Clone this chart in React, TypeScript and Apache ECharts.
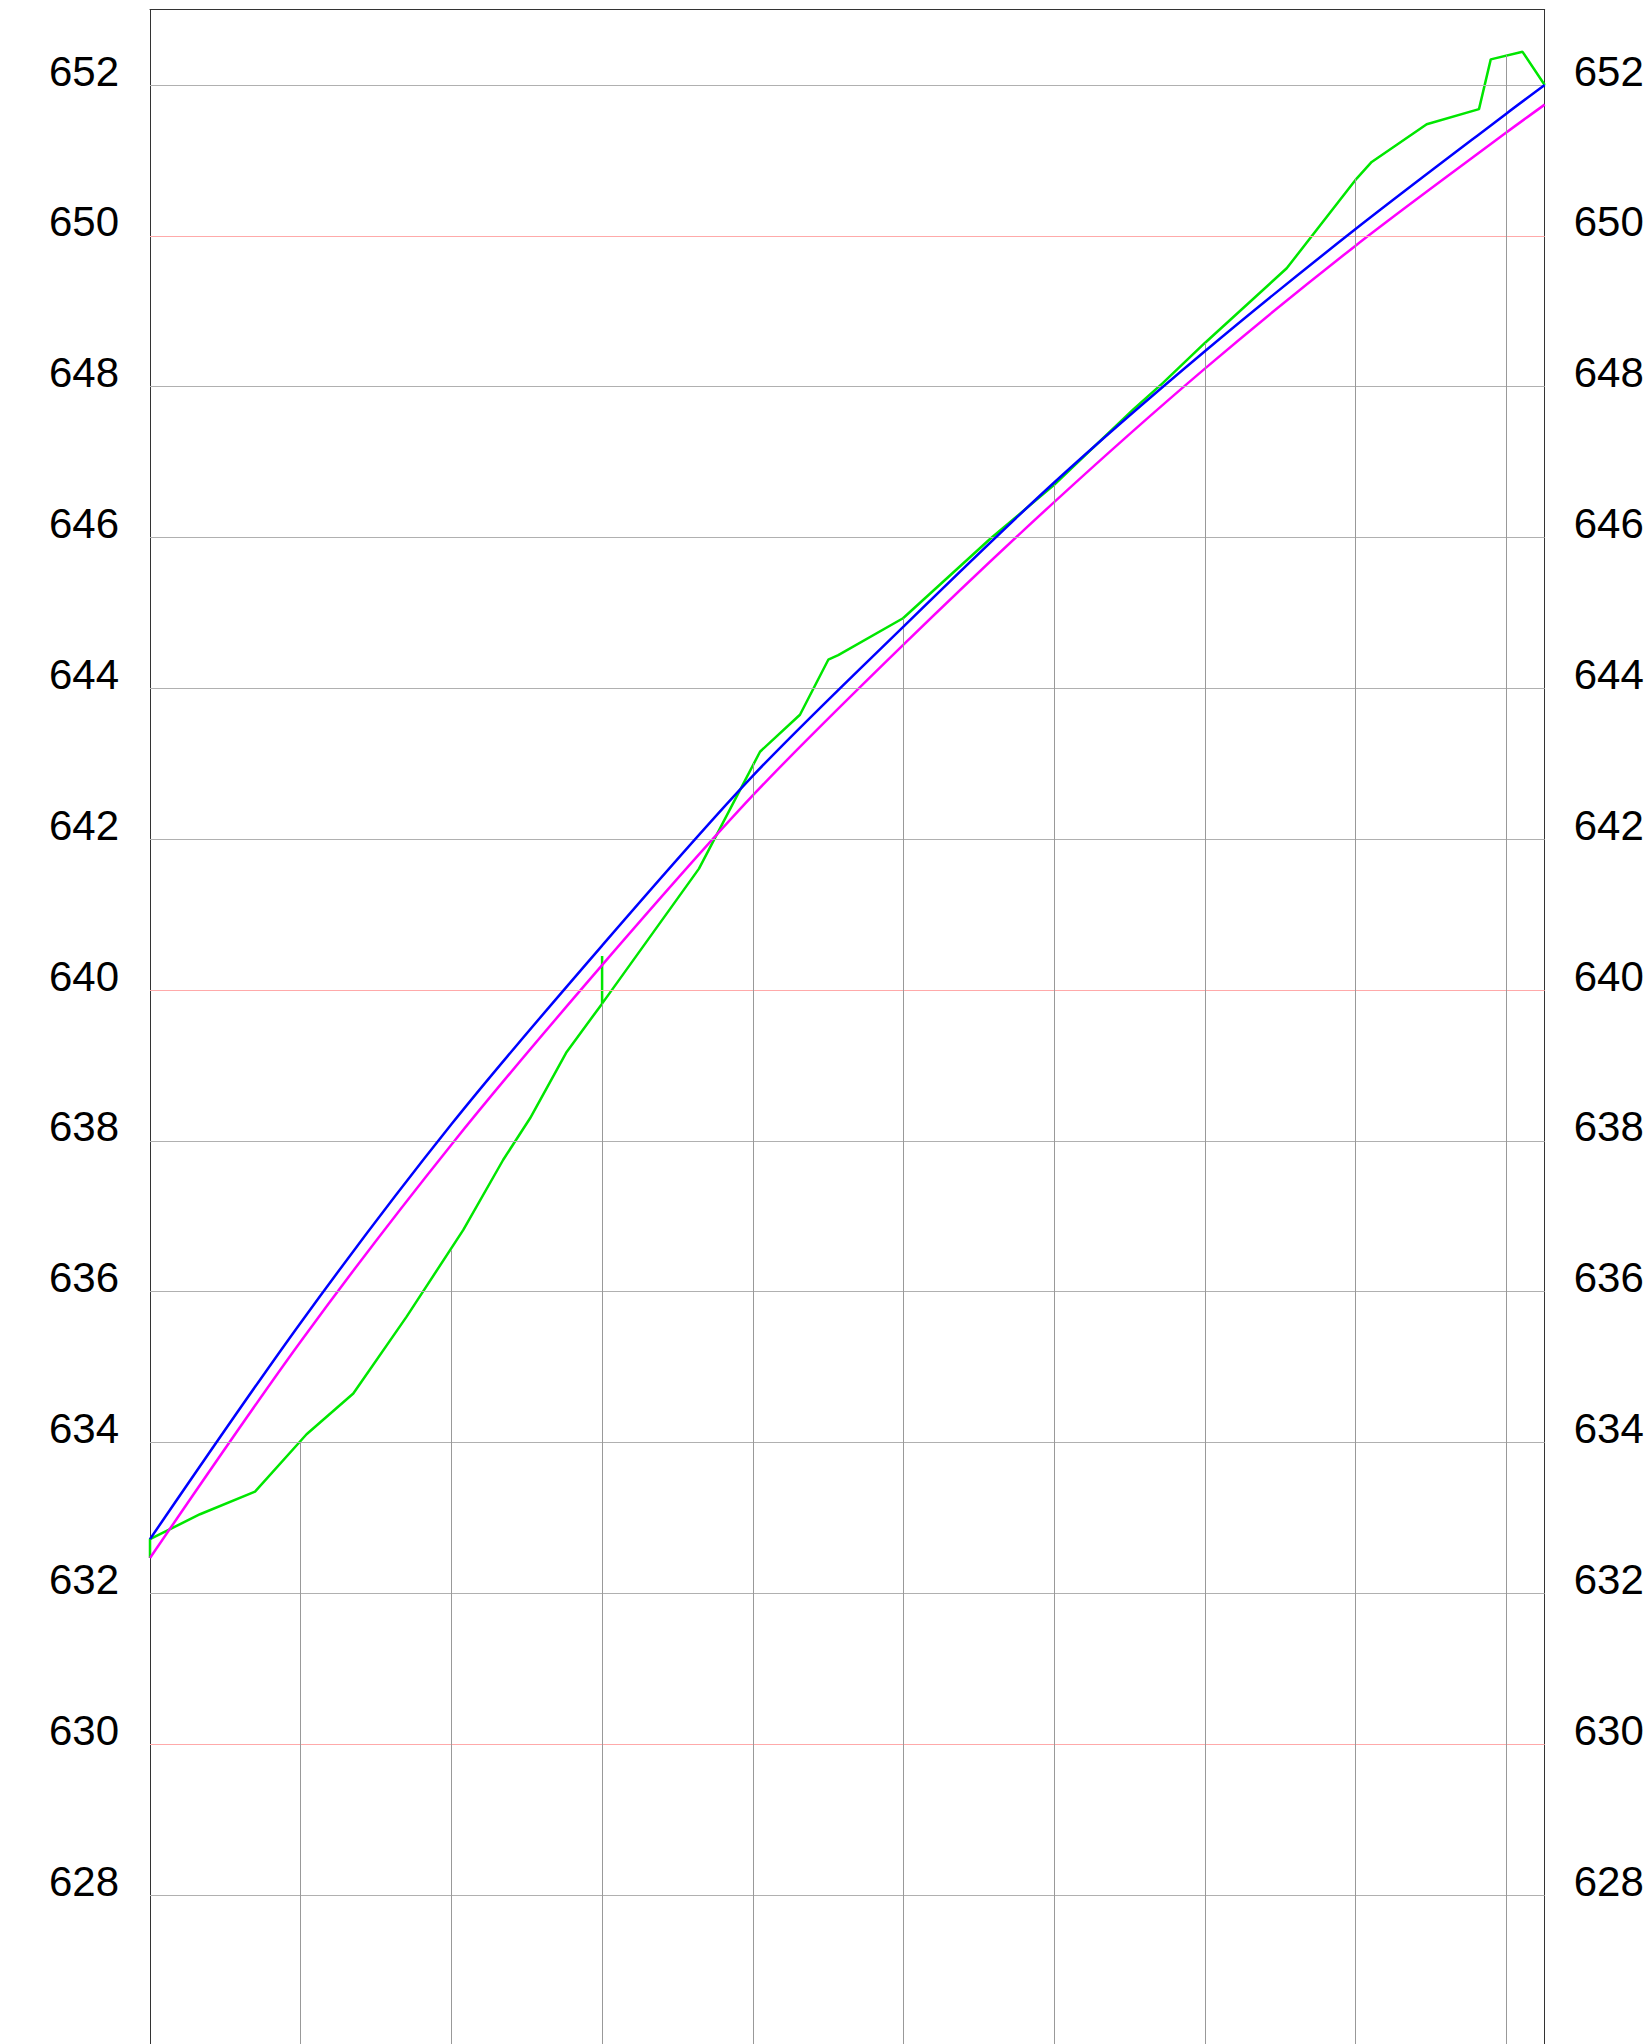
import React, { useEffect, useRef } from "react";
import * as echarts from "echarts";

// Stations (x, in station units) and ground profile (green)
const groundStation = [0, 0, 0.332, 0.697, 1.039, 1.349, 1.703, 2.079, 2.344, 2.522, 2.765, 3.0, 3.0, 3.0, 3.643, 4.048, 4.313, 4.501, 4.567, 4.997, 5.574, 6.0, 6.525, 6.722, 7.0, 7.543, 8.007, 8.107, 8.472, 8.819, 8.897, 9.108, 9.255];
const groundLevel = [632.47, 632.72, 633.05, 633.35, 634.11, 634.65, 635.67, 636.82, 637.75, 638.30, 639.18, 639.82, 640.45, 639.82, 641.61, 643.16, 643.65, 644.38, 644.44, 644.93, 645.98, 646.70, 647.70, 648.05, 648.58, 649.57, 650.76, 650.98, 651.48, 651.68, 652.34, 652.44, 652.0];

// Design lines (blue and magenta)
const gradeStation = [0, 1, 2, 3, 4, 5, 6, 7, 8, 9, 9.255];
const blueLevel = [632.72, 635.59, 638.22, 640.59, 642.84, 644.82, 646.73, 648.47, 650.09, 651.62, 652.0];
const magentaLevel = [632.47, 635.34, 637.95, 640.33, 642.58, 644.58, 646.47, 648.24, 649.87, 651.37, 651.74];

// Vertical station lines (drop lines from ground to the bottom)
const dropStation = [1, 2, 3, 4, 5, 6, 7, 8, 9];
const dropTop = [634.0, 636.55, 639.82, 643.01, 644.93, 646.70, 648.58, 650.76, 652.40];

// Horizontal grid values
const gridValues = [628, 630, 632, 634, 636, 638, 640, 642, 644, 646, 648, 650, 652];
const redGridValues = [630, 640, 650];

const Y_MIN = 626;
const Y_MAX = 653;
const Y_INTERVAL = 2;
const X_MIN = 0;
const X_MAX = 9.255;

const FONT = "'Liberation Sans', Arial, Helvetica, sans-serif";

export default function App() {
  const ref = useRef<HTMLDivElement>(null);

  useEffect(() => {
    document.body.style.margin = "0";
    document.body.style.overflow = "hidden";
    if (!ref.current) return;
    const chart = echarts.init(ref.current, null, { renderer: "svg" });

    const labelStyle = {
      show: true,
      fontFamily: FONT,
      fontSize: 42,
      color: "#000000",
      verticalAlign: "bottom" as const,
      lineHeight: 28,
      showMinLabel: false,
      showMaxLabel: false,
    };

    const zip = (xs: number[], ys: number[]) => xs.map((x, i) => [x, ys[i]]);

    chart.setOption({
      animation: false,
      backgroundColor: "#ffffff",
      grid: {
        left: 150,
        top: 9.6,
        width: 1394.7,
        height: (Y_MAX - Y_MIN) * 75.42,
        containLabel: false,
        outerBoundsMode: "none",
      },
      xAxis: {
        type: "value",
        position: "top",
        min: X_MIN,
        max: X_MAX,
        axisLine: { show: true, onZero: false, lineStyle: { color: "#333333", width: 1 } },
        axisTick: { show: false },
        axisLabel: { show: false },
        splitLine: { show: false },
      },
      yAxis: [
        {
          type: "value",
          position: "left",
          min: Y_MIN,
          max: Y_MAX,
          interval: Y_INTERVAL,
          axisLine: { show: true, onZero: false, lineStyle: { color: "#333333", width: 1 } },
          axisTick: { show: false },
          axisLabel: { ...labelStyle, align: "right", margin: 31 },
          splitLine: { show: false },
        },
        {
          type: "value",
          position: "right",
          min: Y_MIN,
          max: Y_MAX,
          interval: Y_INTERVAL,
          axisLine: { show: true, onZero: false, lineStyle: { color: "#333333", width: 1 } },
          axisTick: { show: false },
          axisLabel: { ...labelStyle, align: "left", margin: 29 },
          splitLine: { show: false },
        },
      ],
      series: [
        {
          type: "line",
          name: "grid",
          data: [],
          z: 1,
          silent: true,
          markLine: {
            silent: true,
            symbol: ["none", "none"],
            label: { show: false },
            animation: false,
            data: [
              ...gridValues.map((v) => ({
                yAxis: v,
                lineStyle: {
                  color: redGridValues.includes(v) ? "#ffaaaa" : "#b0b0b0",
                  width: 1,
                  type: "solid",
                },
              })),
              ...dropStation.map((s, i) => [
                { coord: [s, dropTop[i]], lineStyle: { color: "#999999", width: 1, type: "solid" } },
                { coord: [s, Y_MIN] },
              ]),
            ],
          },
        },
        {
          type: "line",
          name: "ground",
          data: zip(groundStation, groundLevel),
          showSymbol: false,
          symbol: "none",
          z: 3,
          lineStyle: { color: "#00e600", width: 2.5 },
        },
        {
          type: "line",
          name: "magenta",
          data: zip(gradeStation, magentaLevel),
          showSymbol: false,
          symbol: "none",
          smooth: 0.3,
          z: 4,
          lineStyle: { color: "#ff00ff", width: 2.5 },
        },
        {
          type: "line",
          name: "blue",
          data: zip(gradeStation, blueLevel),
          showSymbol: false,
          symbol: "none",
          smooth: 0.3,
          z: 5,
          lineStyle: { color: "#0000ff", width: 2.5 },
        },
      ],
    });

    return () => {
      chart.dispose();
    };
  }, []);

  return <div ref={ref} style={{ width: 1646, height: 2044 }} />;
}
